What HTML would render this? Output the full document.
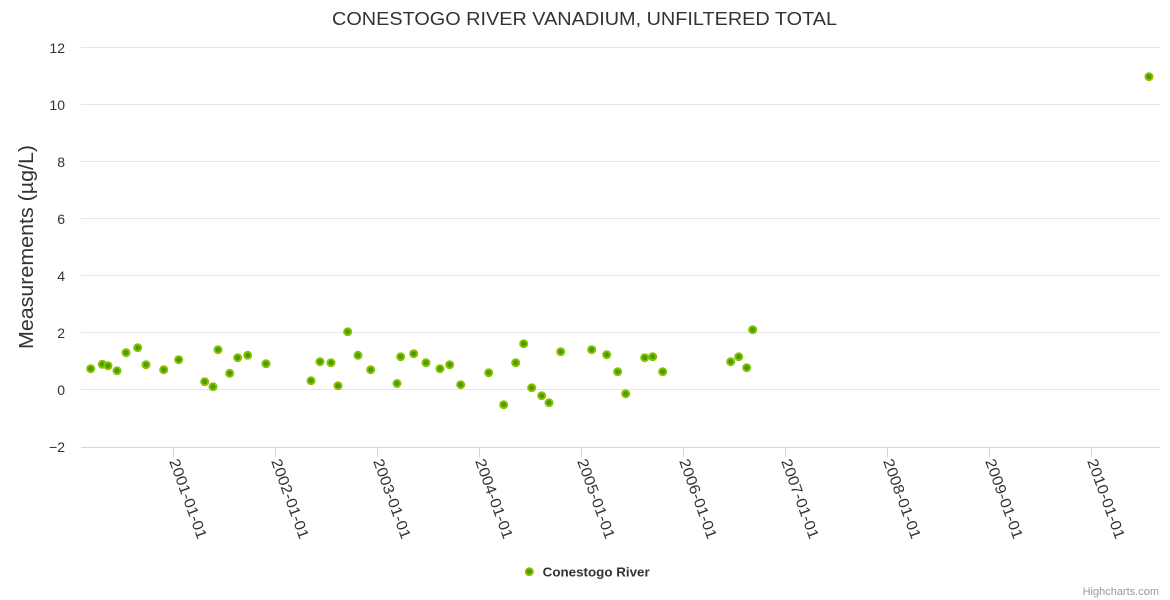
<!DOCTYPE html>
<html>
<head>
<meta charset="utf-8">
<style>
  html, body { margin: 0; padding: 0; background: #ffffff; }
  svg { display: block; }
  text { font-family: "Liberation Sans", "DejaVu Sans", sans-serif; }
</style>
</head>
<body>
<svg width="1170" height="600" viewBox="0 0 1170 600" xmlns="http://www.w3.org/2000/svg">
  <rect x="0" y="0" width="1170" height="600" fill="#ffffff"/>

  <text x="332" y="25" font-size="18" fill="#333333" textLength="505" lengthAdjust="spacingAndGlyphs">CONESTOGO RIVER VANADIUM, UNFILTERED TOTAL</text>

  <g stroke="#e6e6e6" stroke-width="1">
    <line x1="81" y1="47.5" x2="1160" y2="47.5"/>
    <line x1="81" y1="104.5" x2="1160" y2="104.5"/>
    <line x1="81" y1="161.5" x2="1160" y2="161.5"/>
    <line x1="81" y1="218.5" x2="1160" y2="218.5"/>
    <line x1="81" y1="275.5" x2="1160" y2="275.5"/>
    <line x1="81" y1="332.5" x2="1160" y2="332.5"/>
    <line x1="81" y1="389.5" x2="1160" y2="389.5"/>
  </g>
  <line x1="81" y1="447.5" x2="1160" y2="447.5" stroke="#ccd6eb" stroke-width="1"/>

  <g stroke="#ccd6eb" stroke-width="1">
    <line x1="173.5" y1="447" x2="173.5" y2="457"/>
    <line x1="275.5" y1="447" x2="275.5" y2="457"/>
    <line x1="377.5" y1="447" x2="377.5" y2="457"/>
    <line x1="479.5" y1="447" x2="479.5" y2="457"/>
    <line x1="581.5" y1="447" x2="581.5" y2="457"/>
    <line x1="683.5" y1="447" x2="683.5" y2="457"/>
    <line x1="785.5" y1="447" x2="785.5" y2="457"/>
    <line x1="887.5" y1="447" x2="887.5" y2="457"/>
    <line x1="989.5" y1="447" x2="989.5" y2="457"/>
    <line x1="1091.5" y1="447" x2="1091.5" y2="457"/>
  </g>

  <g font-size="14" fill="#333333" text-anchor="end">
    <text x="65" y="53">12</text>
    <text x="65" y="110">10</text>
    <text x="65" y="167">8</text>
    <text x="65" y="224">6</text>
    <text x="65" y="281">4</text>
    <text x="65" y="338">2</text>
    <text x="65" y="395">0</text>
    <text x="65" y="452">−2</text>
  </g>

  <text x="33" y="247" font-size="20" fill="#333333" text-anchor="middle" transform="rotate(-90 33 247)" textLength="204" lengthAdjust="spacingAndGlyphs">Measurements (µg/L)</text>

  <g font-size="15" fill="#333333">
    <text x="169" y="461" transform="rotate(70 169 461)" textLength="84" lengthAdjust="spacingAndGlyphs">2001-01-01</text>
    <text x="271" y="461" transform="rotate(70 271 461)" textLength="84" lengthAdjust="spacingAndGlyphs">2002-01-01</text>
    <text x="373" y="461" transform="rotate(70 373 461)" textLength="84" lengthAdjust="spacingAndGlyphs">2003-01-01</text>
    <text x="475" y="461" transform="rotate(70 475 461)" textLength="84" lengthAdjust="spacingAndGlyphs">2004-01-01</text>
    <text x="577" y="461" transform="rotate(70 577 461)" textLength="84" lengthAdjust="spacingAndGlyphs">2005-01-01</text>
    <text x="679" y="461" transform="rotate(70 679 461)" textLength="84" lengthAdjust="spacingAndGlyphs">2006-01-01</text>
    <text x="781" y="461" transform="rotate(70 781 461)" textLength="84" lengthAdjust="spacingAndGlyphs">2007-01-01</text>
    <text x="883" y="461" transform="rotate(70 883 461)" textLength="84" lengthAdjust="spacingAndGlyphs">2008-01-01</text>
    <text x="985" y="461" transform="rotate(70 985 461)" textLength="84" lengthAdjust="spacingAndGlyphs">2009-01-01</text>
    <text x="1087" y="461" transform="rotate(70 1087 461)" textLength="84" lengthAdjust="spacingAndGlyphs">2010-01-01</text>
  </g>

  <g fill="#4c9a00" stroke="#88c300" stroke-width="2">
    <circle cx="90.7" cy="368.7" r="3.5"/>
    <circle cx="102.3" cy="364.3" r="3.5"/>
    <circle cx="108" cy="365.7" r="3.5"/>
    <circle cx="117" cy="370.7" r="3.5"/>
    <circle cx="126" cy="352.7" r="3.5"/>
    <circle cx="137.7" cy="347.7" r="3.5"/>
    <circle cx="146" cy="364.7" r="3.5"/>
    <circle cx="163.7" cy="369.7" r="3.5"/>
    <circle cx="178.7" cy="359.7" r="3.5"/>
    <circle cx="204.7" cy="381.7" r="3.5"/>
    <circle cx="213" cy="386.7" r="3.5"/>
    <circle cx="218" cy="349.7" r="3.5"/>
    <circle cx="229.7" cy="373.3" r="3.5"/>
    <circle cx="237.7" cy="357.7" r="3.5"/>
    <circle cx="247.7" cy="355.3" r="3.5"/>
    <circle cx="266" cy="363.7" r="3.5"/>
    <circle cx="311" cy="380.7" r="3.5"/>
    <circle cx="320" cy="361.7" r="3.5"/>
    <circle cx="331" cy="362.7" r="3.5"/>
    <circle cx="338" cy="385.7" r="3.5"/>
    <circle cx="347.7" cy="331.7" r="3.5"/>
    <circle cx="358" cy="355.3" r="3.5"/>
    <circle cx="370.7" cy="369.7" r="3.5"/>
    <circle cx="397" cy="383.5" r="3.5"/>
    <circle cx="400.7" cy="356.7" r="3.5"/>
    <circle cx="413.7" cy="353.7" r="3.5"/>
    <circle cx="426" cy="362.7" r="3.5"/>
    <circle cx="440" cy="368.7" r="3.5"/>
    <circle cx="449.7" cy="364.7" r="3.5"/>
    <circle cx="460.7" cy="384.7" r="3.5"/>
    <circle cx="488.7" cy="372.7" r="3.5"/>
    <circle cx="503.7" cy="404.7" r="3.5"/>
    <circle cx="515.7" cy="362.7" r="3.5"/>
    <circle cx="523.7" cy="343.7" r="3.5"/>
    <circle cx="531.7" cy="387.7" r="3.5"/>
    <circle cx="541.7" cy="395.7" r="3.5"/>
    <circle cx="549" cy="402.7" r="3.5"/>
    <circle cx="560.7" cy="351.7" r="3.5"/>
    <circle cx="591.7" cy="349.7" r="3.5"/>
    <circle cx="606.7" cy="354.7" r="3.5"/>
    <circle cx="617.7" cy="371.7" r="3.5"/>
    <circle cx="625.7" cy="393.7" r="3.5"/>
    <circle cx="644.7" cy="357.7" r="3.5"/>
    <circle cx="652.7" cy="356.7" r="3.5"/>
    <circle cx="662.7" cy="371.7" r="3.5"/>
    <circle cx="730.7" cy="361.7" r="3.5"/>
    <circle cx="738.7" cy="356.7" r="3.5"/>
    <circle cx="746.7" cy="367.7" r="3.5"/>
    <circle cx="752.7" cy="329.7" r="3.5"/>
    <circle cx="1149" cy="76.7" r="3.5"/>
  </g>

  <circle cx="529.3" cy="571.7" r="3.5" fill="#4c9a00" stroke="#88c300" stroke-width="2"/>
  <text x="542.7" y="576.5" font-size="13" font-weight="bold" fill="#333333" textLength="107" lengthAdjust="spacingAndGlyphs">Conestogo River</text>

  <text x="1159" y="595" font-size="11" fill="#999999" text-anchor="end">Highcharts.com</text>
</svg>
</body>
</html>
